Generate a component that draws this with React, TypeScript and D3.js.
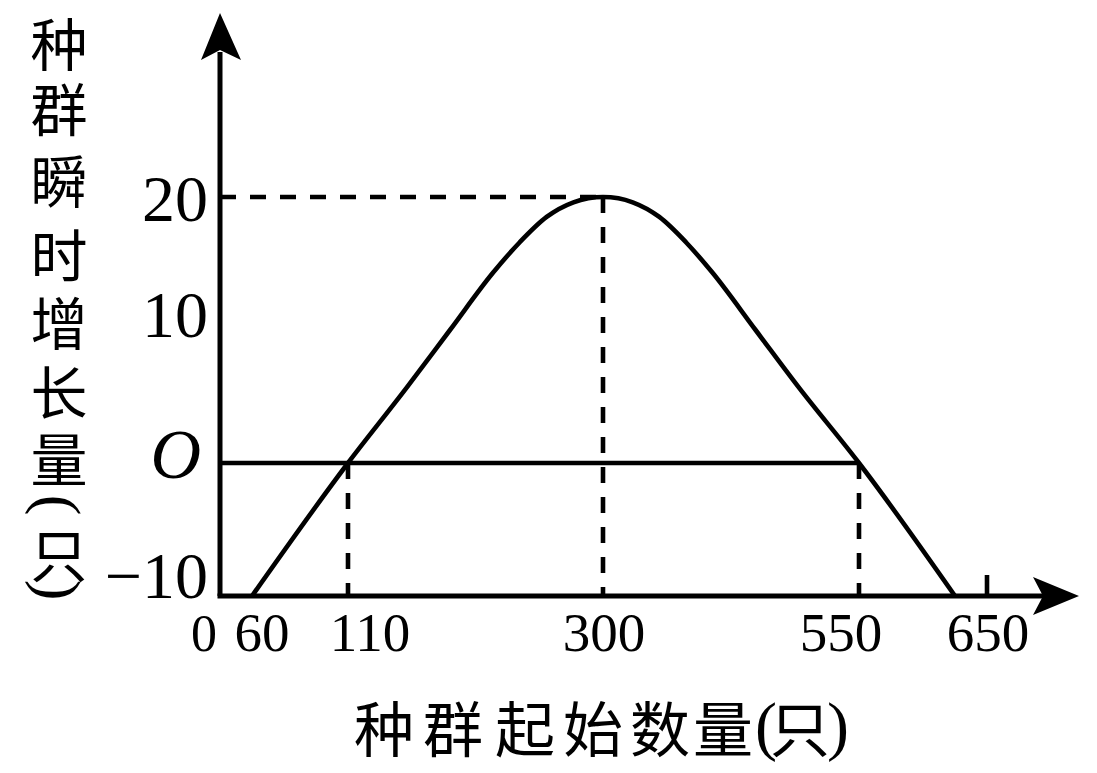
import React from 'react';
import * as d3 from 'd3';

// ---- data ----
const xTickValues = [0, 60, 110, 300, 550, 650];
const xTickLabels = ['0', '60', '110', '300', '550', '650'];
const yTickValues = [20, 10, 0, -10];
const yTickLabels = ['20', '10', 'O', '-10'];
const curveX = [60, 110, 154, 186, 218, 238, 258, 278, 289, 300, 315, 329, 355, 381, 407, 449, 491, 550, 625];
const curveY = [-10, 0, 5.7, 10.0, 14.3, 16.6, 18.5, 19.6, 19.9, 20, 19.9, 19.6, 18.5, 16.6, 14.3, 10.0, 5.7, 0, -10];
const peakX = 300;
const peakY = 20;
const zeroCrossings = [110, 550];
const yTitleChars = ['种', '群', '瞬', '时', '增', '长', '量', '(', '只', ')'];
const xTitleChars = ['种', '群', '起', '始', '数', '量', '(', '只', ')'];

export default function App() {
  const W = 1097, H = 773;
  // schematic (piecewise) x axis as drawn in the figure
  const x = d3.scaleLinear().domain(xTickValues).range([220, 252, 348, 603, 859, 987]);
  const y = d3.scaleLinear().domain([-10, 20]).range([596, 197]);

  const pts: [number, number][] = curveX.map((v, i) => [x(v), y(curveY[i])]);
  const line = d3.line().curve(d3.curveMonotoneX)(pts) as string;

  const axisX0 = x(0);
  const axisY0 = y(-10);
  const sw = 4.6;
  const asw = 5;
  const dash = '16,14';

  const xLabelDx = [-16, 10, 22, 1, -18, 1];
  const yLabelDy = [24, 7, 15, 2];
  const yLabelSize = [66, 66, 70, 66];

  const yTitleY = [41, 106, 178, 252, 320, 389, 456, 505, 552, 590];
  const xTitleX = [384, 453, 525, 593, 660, 723, 766, 800, 838];

  const serif = '"Liberation Serif", "DejaVu Serif", serif';
  const cjk = '"Noto Sans CJK SC", "Noto Sans CJK JP", sans-serif';

  return (
    <svg width={W} height={H} style={{ position: 'absolute', left: 0, top: 0, background: '#fff' }}>
      <rect x={0} y={0} width={W} height={H} fill="#fff" />
      {/* dashed guides */}
      <line x1={axisX0} y1={y(peakY)} x2={x(peakX)} y2={y(peakY)} stroke="#000" strokeWidth={sw} strokeDasharray={dash} />
      <line x1={x(peakX)} y1={y(peakY)} x2={x(peakX)} y2={axisY0} stroke="#000" strokeWidth={sw} strokeDasharray={dash} />
      {zeroCrossings.map((v) => (
        <line key={v} x1={x(v)} y1={y(0)} x2={x(v)} y2={axisY0} stroke="#000" strokeWidth={sw} strokeDasharray={dash} />
      ))}
      {/* zero line */}
      <line x1={axisX0} y1={y(0)} x2={x(zeroCrossings[1])} y2={y(0)} stroke="#000" strokeWidth={sw} />
      {/* curve */}
      <path d={line} fill="none" stroke="#000" strokeWidth={sw} strokeLinejoin="round" />
      {/* axes */}
      <line x1={axisX0} y1={axisY0} x2={axisX0} y2={52} stroke="#000" strokeWidth={asw} />
      <line x1={axisX0 - asw / 2} y1={axisY0} x2={1045} y2={axisY0} stroke="#000" strokeWidth={asw} />
      <path d={`M${axisX0},13 L${axisX0 + 21},60 L${axisX0},50 L${axisX0 - 19},60 Z`} fill="#000" />
      <path d={`M1079,${axisY0} L1033,${axisY0 - 19} L1043,${axisY0} L1033,${axisY0 + 19} Z`} fill="#000" />
      {/* 650 tick */}
      <line x1={x(650)} y1={axisY0} x2={x(650)} y2={axisY0 - 21} stroke="#000" strokeWidth={sw} />
      {/* x tick labels */}
      {xTickValues.map((v, i) => (
        <text key={v} x={x(v) + xLabelDx[i]} y={651} textAnchor="middle" fontFamily={serif} fontSize={i === 0 ? 52 : 55} fill="#000">
          {xTickLabels[i]}
        </text>
      ))}
      {/* y tick labels */}
      {yTickValues.map((v, i) => (
        <text key={v} x={v === 0 ? 201 : 208} y={y(v) + yLabelDy[i]} textAnchor="end" fontFamily={serif}
          fontStyle={v === 0 ? 'italic' : 'normal'} fontSize={yLabelSize[i]} fill="#000">
          {v === -10 ? '\u2212' + '10' : yTickLabels[i]}
        </text>
      ))}
      {/* y title (vertical) */}
      {yTitleChars.map((c, i) => {
        const isParen = c === '(' || c === ')';
        return isParen ? (
          <text key={i} x={0} y={0} transform={`translate(59,${yTitleY[i]}) rotate(90)`} textAnchor="middle"
            dominantBaseline="central" fontFamily={serif} fontSize={62} fill="#000">{c}</text>
        ) : (
          <text key={i} x={59} y={yTitleY[i]} textAnchor="middle" dominantBaseline="central"
            fontFamily={cjk} fontSize={57} fill="#000">{c}</text>
        );
      })}
      {/* x title */}
      {xTitleChars.map((c, i) => {
        const isParen = c === '(' || c === ')';
        return (
          <text key={i} x={xTitleX[i]} y={725} textAnchor="middle" dominantBaseline="central"
            fontFamily={isParen ? serif : cjk} fontSize={isParen ? 66 : 60} fill="#000">{c}</text>
        );
      })}
    </svg>
  );
}
